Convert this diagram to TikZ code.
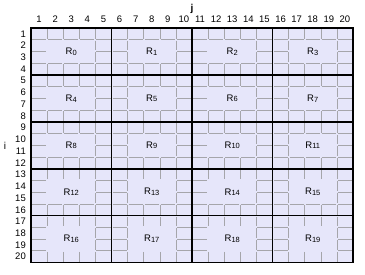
\documentclass[tikz,border=0pt]{standalone}
\usepackage{fontspec}
\setmainfont{Liberation Sans}
\definecolor{cellfill}{RGB}{230,230,250}
\definecolor{gridgray}{RGB}{165,165,170}
\tikzset{
  hgrid/.style={draw=gridgray, line width=0.6pt, dash pattern=on 14.1pt off 2pt, dash phase=15.1pt},
  vgrid/.style={draw=gridgray, line width=0.6pt, dash pattern=on 9.725pt off 2pt, dash phase=10.725pt},
  blockline/.style={draw=black, line width=1.6pt},
  numlabel/.style={font=\fontsize{9.5}{10}\selectfont, inner sep=0pt},
  rowlabel/.style={font=\fontsize{9.5}{10}\selectfont, inner sep=0pt, anchor=east},
  reglabel/.style={font=\fontsize{9.5}{10}\selectfont, fill=cellfill, inner sep=0pt,
    minimum width=48.3pt, minimum height=23.45pt},
  jlabel/.style={font=\fontsize{10}{10}\selectfont\bfseries, inner sep=0pt},
  ilabel/.style={font=\fontsize{10}{10}\selectfont, inner sep=0pt}
}
\newcommand{\regname}[1]{R\raisebox{-0.8pt}{\fontsize{7.5}{8}\selectfont #1}}
\begin{document}
\begin{tikzpicture}[x=1pt,y=-1pt]
\useasboundingbox (0,0) rectangle (365,274);
\def\xo{31}\def\yo{28}\def\cw{16.1}\def\rh{11.725}
\fill[cellfill] (\xo,\yo) rectangle (353,262.5);
\foreach \k in {1,...,19} {
  \draw[vgrid] ({\xo+\k*\cw},\yo) -- ({\xo+\k*\cw},262.5);
  \draw[hgrid] (\xo,{\yo+\k*\rh}) -- (353,{\yo+\k*\rh});
}
\foreach \r in {0,...,4} {
  \foreach \c in {0,...,3} {
    \pgfmathtruncatemacro{\n}{\r*4+\c}
    \node[reglabel] (R\n) at ({\xo+(\c*5+2.5)*\cw},{\yo+(\r*4+2)*\rh}) {\regname{\n}};
  }
}
\foreach \k in {5,10,15}
  \draw[blockline] ({\xo+\k*\cw},\yo) -- ({\xo+\k*\cw},262.5);
\foreach \k in {4,8,12,16}
  \draw[blockline] (\xo,{\yo+\k*\rh}) -- (353,{\yo+\k*\rh});
\draw[blockline] (\xo,\yo) rectangle (353,262.5);
\foreach \k in {1,...,20} {
  \node[numlabel] (c\k) at ({\xo+(\k-0.5)*\cw},19) {\k};
  \node[rowlabel] (r\k) at (26,{\yo+(\k-0.5)*\rh}) {\k};
}
\node[jlabel] (j) at (192,8.5) {j};
\node[ilabel] (i) at (5,146) {i};
\end{tikzpicture}
\end{document}
